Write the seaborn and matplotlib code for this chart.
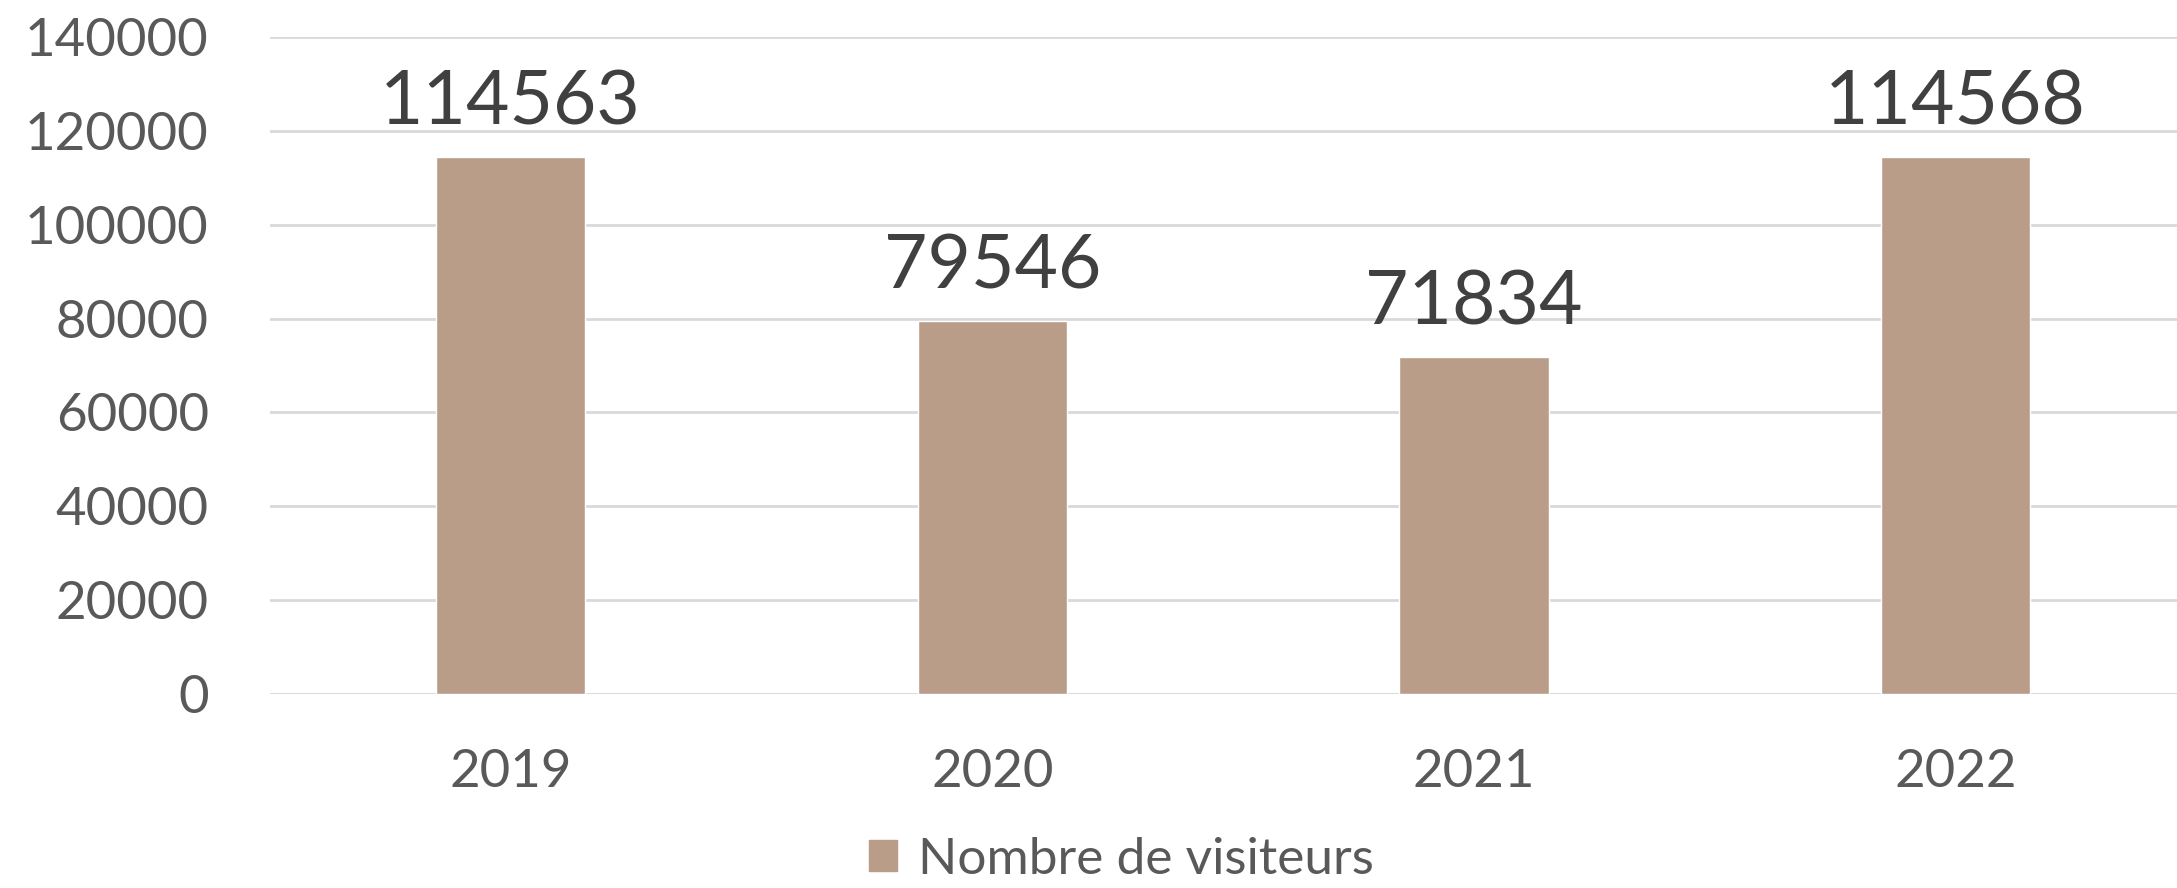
import matplotlib
matplotlib.use("Agg")
import matplotlib.pyplot as plt
import matplotlib.patches as mpatches
import seaborn as sns
import pandas as pd

years = ['2019', '2020', '2021', '2022']
visiteurs = [114563, 79546, 71834, 114568]
yticks = [0, 20000, 40000, 60000, 80000, 100000, 120000, 140000]

bar_color = '#B99D88'
sns.set_style('white')
plt.rcParams['font.family'] = ['Lato', 'DejaVu Sans']

df = pd.DataFrame({'Année': years, 'Nombre de visiteurs': visiteurs})

fig = plt.figure(figsize=(21.77, 8.88), dpi=100)
ax = fig.add_axes([0.124, 0.219, 0.885, 0.739])

sns.barplot(data=df, x='Année', y='Nombre de visiteurs', color=bar_color,
            width=0.31, saturation=1, ax=ax, zorder=3)

ax.set_ylim(0, 140000)
ax.set_yticks(yticks)
ax.set_yticklabels([str(v) for v in yticks])
ax.set_xlim(-0.5, 3.5)
ax.yaxis.grid(True, color='#D9D9D9', linewidth=2, zorder=0)
ax.set_axisbelow(True)
for s in ax.spines.values():
    s.set_visible(False)
ax.axhline(0, color='#D9D9D9', linewidth=2, zorder=1)

ax.tick_params(axis='y', length=0, pad=44, labelsize=38, labelcolor='#595959')
ax.tick_params(axis='x', length=0, pad=40, labelsize=38, labelcolor='#595959')
ax.set_xlabel('')
ax.set_ylabel('')

ax.bar_label(ax.containers[0], labels=[str(v) for v in visiteurs],
             padding=14, fontsize=54, color='#404040')

handle = mpatches.Patch(color=bar_color, label='Nombre de visiteurs')
fig.legend(handles=[handle], loc='center', bbox_to_anchor=(0.515, 0.032),
           frameon=False, fontsize=37, labelcolor='#595959',
           handlelength=0.55, handleheight=0.55, handletextpad=0.4)

fig.savefig('out.png', dpi=100, facecolor='white')
